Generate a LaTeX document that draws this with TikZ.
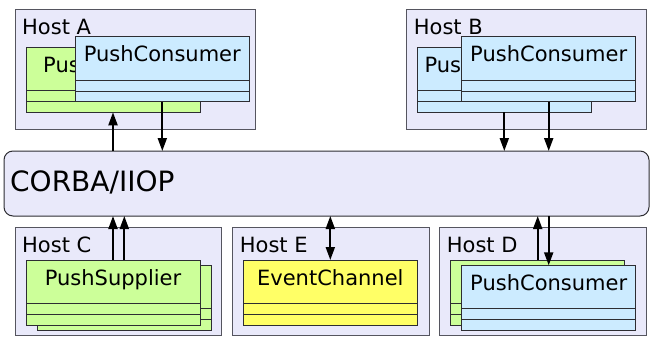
\documentclass[tikz,border=0pt]{standalone}
\usepackage{fontspec}
\setmainfont{DejaVu Sans}
\usetikzlibrary{arrows.meta,calc}

\definecolor{hostfill}{RGB}{233,233,250}
\definecolor{hostline}{RGB}{85,85,95}
\definecolor{boxline}{RGB}{45,45,50}
\definecolor{supplierfill}{RGB}{204,255,153}
\definecolor{consumerfill}{RGB}{204,235,255}
\definecolor{channelfill}{RGB}{255,255,102}

\tikzset{
  host/.style={draw=hostline, fill=hostfill, line width=1pt, anchor=north west,
    inner sep=0pt, outer sep=0pt},
  hostlabel/.style={anchor=base west, inner sep=0pt,
    font=\fontsize{21}{21}\selectfont},
  umlbox/.style={draw=boxline, line width=1pt, anchor=north west, inner sep=0pt,
    outer sep=0pt, minimum width=174pt, minimum height=65pt},
  umlrule/.style={draw=boxline, line width=1pt},
  umlname/.style={anchor=base, inner sep=0pt, font=\fontsize{21}{21}\selectfont},
  peekname/.style={anchor=base west, inner sep=0pt, font=\fontsize{21}{21}\selectfont},
  conn/.style={line width=2pt, -{Triangle[length=13pt,width=9pt]}},
  bothconn/.style={line width=2pt, {Triangle[length=13pt,width=9pt]}-{Triangle[length=13pt,width=9pt]}},
}

% class box with a name compartment and two empty compartments
\newcommand\umlclass[5]{%
  \node[umlbox, fill=#4] (#1) at (#2,#3) {};
  \draw[umlrule] ([yshift=-43.5pt]#1.north west) -- ([yshift=-43.5pt]#1.north east);
  \draw[umlrule] ([yshift=-54.5pt]#1.north west) -- ([yshift=-54.5pt]#1.north east);
  \node[umlname] at ([yshift=-25pt]#1.north) {#5};
}

\begin{document}
\begin{tikzpicture}[x=1pt, y=-1pt]
\useasboundingbox (0,0) rectangle (652,337);

% hosts
\node[host, minimum width=240pt, minimum height=119.5pt] (hostA) at (15,9.5) {};
\node[hostlabel] at ([xshift=7pt,yshift=-25pt]hostA.north west) {Host A};
\node[host, minimum width=239.3pt, minimum height=120pt] (hostB) at (406.7,9.3) {};
\node[hostlabel] at ([xshift=7pt,yshift=-25pt]hostB.north west) {Host B};
\node[host, minimum width=206.7pt, minimum height=108.5pt] (hostC) at (15,227.3) {};
\node[hostlabel] at ([xshift=7pt,yshift=-25pt]hostC.north west) {Host C};
\node[host, minimum width=196.3pt, minimum height=108.5pt] (hostE) at (232.7,227.3) {};
\node[hostlabel] at ([xshift=7pt,yshift=-25pt]hostE.north west) {Host E};
\node[host, minimum width=206.3pt, minimum height=108.5pt] (hostD) at (439.7,227.3) {};
\node[hostlabel] at ([xshift=7pt,yshift=-25pt]hostD.north west) {Host D};

% middleware bus
\node[draw=boxline, line width=1pt, fill=hostfill, rounded corners=9pt,
  anchor=north west, inner sep=0pt, outer sep=0pt,
  minimum width=645pt, minimum height=65pt] (corba) at (4,151) {};
\node[anchor=base west, inner sep=0pt, font=\fontsize{28}{28}\selectfont]
  at ([xshift=6pt,yshift=-8.2pt]corba.west) {CORBA/IIOP};

% objects on each host (back boxes first; their names are mostly covered)
\umlclass{A1}{26}{47.3}{supplierfill}{}
\node[peekname] at ([xshift=17pt,yshift=-25.4pt]A1.north west) {Pus};
\umlclass{A2}{75.3}{36.7}{consumerfill}{PushConsumer}
\umlclass{B1}{417.3}{47.3}{consumerfill}{}
\node[peekname] at ([xshift=7pt,yshift=-25.4pt]B1.north west) {Pus};
\umlclass{B2}{461.7}{36.7}{consumerfill}{PushConsumer}
\umlclass{C1}{37.3}{265}{supplierfill}{}
\umlclass{C2}{26}{260}{supplierfill}{PushSupplier}
\umlclass{E1}{243.3}{260}{channelfill}{EventChannel}
\umlclass{D1}{450.7}{260}{supplierfill}{}
\umlclass{D2}{461.7}{265.3}{consumerfill}{PushConsumer}

% connections through the bus
\draw[conn] (A1.south |- corba.north) -- (A1.south);
\draw[conn] (A2.south) -- (A2.south |- corba.north);
\draw[conn] (B1.south) -- (B1.south |- corba.north);
\draw[conn] (B2.south) -- (B2.south |- corba.north);
\draw[conn] (C2.north) -- (C2.north |- corba.south);
\draw[conn] (C1.north |- C2.north) -- (C1.north |- corba.south);
\draw[bothconn] (E1.north |- corba.south) -- (E1.north);
\draw[conn] (D1.north) -- (D1.north |- corba.south);
\draw[conn] (D2.north |- corba.south) -- (D2.north);
\end{tikzpicture}
\end{document}
